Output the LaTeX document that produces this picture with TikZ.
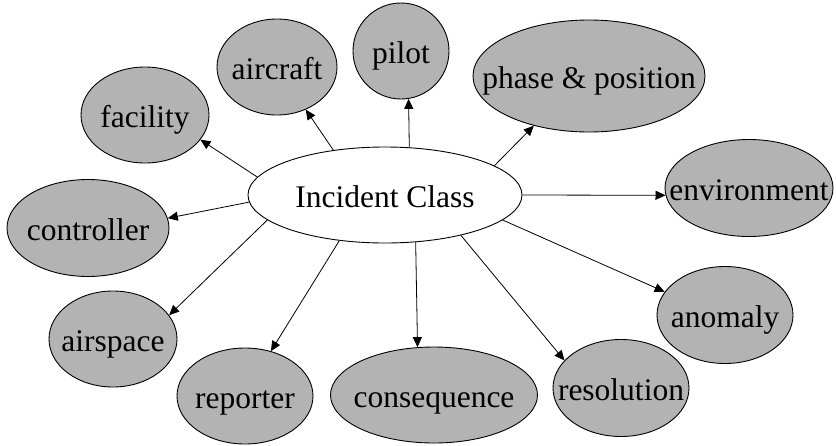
\documentclass[tikz,border=0pt]{standalone}
\usepackage{fontspec}
\setmainfont{Liberation Serif}
\usetikzlibrary{shapes.geometric,arrows.meta}
\definecolor{nodegray}{RGB}{179,179,179}
\tikzset{
  hub/.style={ellipse, draw=black, line width=0.9pt, fill=white, inner sep=0pt},
  topic/.style={ellipse, draw=black, line width=0.9pt, fill=nodegray, inner sep=0pt},
  caption/.style={font=\fontsize{31.5}{36}\selectfont, text height=24pt, text depth=0pt, inner sep=0pt},
  link/.style={line width=0.8pt, -{Triangle[length=10pt,width=9pt]}}
}
\begin{document}
\begin{tikzpicture}[x=1pt,y=-1pt]
\useasboundingbox (0,0) rectangle (836,445);

% central class
\node[hub, minimum width=274pt, minimum height=96pt,
      label={[caption]center:Incident Class}] (ic) at (385,195) {};

% surrounding attributes
\node[topic, minimum width=120pt, minimum height=96pt, label={[caption]center:aircraft}] (aircraft) at (277,67) {};
\node[topic, minimum width=96pt,  minimum height=96pt, label={[caption]center:pilot}] (pilot) at (401,51) {};
\node[topic, minimum width=232pt, minimum height=112pt, label={[caption]center:phase \& position}] (phase) at (589,76) {};
\node[topic, minimum width=128pt, minimum height=96pt, label={[caption]center:facility}] (facility) at (145,115) {};
\node[topic, minimum width=162pt, minimum height=97pt, label={[caption]center:controller}] (controller) at (88,228) {};
\node[topic, minimum width=168pt, minimum height=97pt, label={[caption]center:environment}] (environment) at (749,188) {};
\node[topic, minimum width=128pt, minimum height=96pt, label={[caption]center:airspace}] (airspace) at (113,339) {};
\node[topic, minimum width=136pt, minimum height=96pt, label={[caption]center:reporter}] (reporter) at (245,396) {};
\node[topic, minimum width=207pt, minimum height=96pt, label={[caption]center:consequence}] (consequence) at (434,395) {};
\node[topic, minimum width=136pt, minimum height=97pt, label={[caption]center:resolution}] (resolution) at (621,388) {};
\node[topic, minimum width=136pt, minimum height=97pt, label={[caption]center:anomaly}] (anomaly) at (725,315) {};

% connectors
\draw[link] (ic.139.4) -- (aircraft.304.3);
\draw[link] (ic.63.4)  -- (pilot.279.5);
\draw[link] (ic.15.9)  -- (phase.222.2);
\draw[link] (ic.172.9) -- (facility.336.3);
\draw[link] (ic.183.8) -- (controller.7.0);
\draw[link] (ic.-0.4)  -- (environment.185.3);
\draw[link] (ic.192.6) -- (airspace.23.2);
\draw[link] (ic.225.6) -- (reporter.60.3);
\draw[link] (ic.303.7) -- (consequence.109.9);
\draw[link] (ic.332.9) -- (resolution.154.7);
\draw[link] (ic.348.7) -- (anomaly.159.0);
\end{tikzpicture}
\end{document}
